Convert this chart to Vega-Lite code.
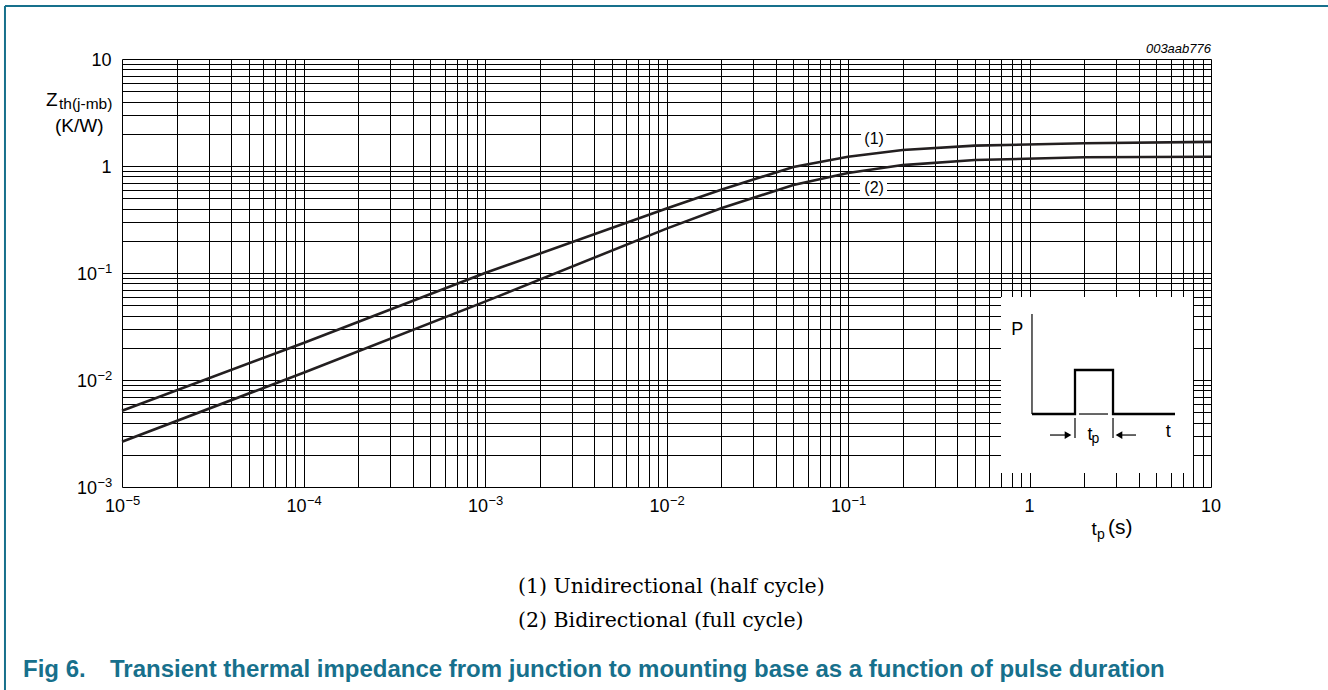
{
  "$schema": "https://vega.github.io/schema/vega-lite/v6.json",
  "width": 1089,
  "height": 428,
  "autosize": {"type": "none"},
  "padding": {"left": 122, "top": 59, "right": 117, "bottom": 203},
  "background": "white",
  "config": {"view": {"stroke": null}, "font": "Liberation Sans"},
  "datasets": {
    "curves": [
      {"series": "1", "t": 0.00001, "z": 0.00516},
      {"series": "1", "t": 0.0001, "z": 0.0222},
      {"series": "1", "t": 0.001, "z": 0.0998},
      {"series": "1", "t": 0.01, "z": 0.40},
      {"series": "1", "t": 0.02, "z": 0.60},
      {"series": "1", "t": 0.05, "z": 0.98},
      {"series": "1", "t": 0.1, "z": 1.22},
      {"series": "1", "t": 0.2, "z": 1.41},
      {"series": "1", "t": 0.5, "z": 1.55},
      {"series": "1", "t": 2, "z": 1.63},
      {"series": "1", "t": 10, "z": 1.68},
      {"series": "2", "t": 0.00001, "z": 0.00265},
      {"series": "2", "t": 0.0001, "z": 0.0117},
      {"series": "2", "t": 0.001, "z": 0.054},
      {"series": "2", "t": 0.01, "z": 0.26},
      {"series": "2", "t": 0.02, "z": 0.403},
      {"series": "2", "t": 0.05, "z": 0.664},
      {"series": "2", "t": 0.1, "z": 0.86},
      {"series": "2", "t": 0.2, "z": 1.02},
      {"series": "2", "t": 0.5, "z": 1.138},
      {"series": "2", "t": 2, "z": 1.206},
      {"series": "2", "t": 10, "z": 1.22}
    ],
    "xPow": [
      {"t": 0.00001, "base": "10", "exp": "−5"},
      {"t": 0.0001, "base": "10", "exp": "−4"},
      {"t": 0.001, "base": "10", "exp": "−3"},
      {"t": 0.01, "base": "10", "exp": "−2"},
      {"t": 0.1, "base": "10", "exp": "−1"}
    ],
    "xPlain": [
      {"t": 1, "label": "1"},
      {"t": 10, "label": "10"}
    ],
    "yPow": [
      {"z": 0.001, "base": "10", "exp": "−3"},
      {"z": 0.01, "base": "10", "exp": "−2"},
      {"z": 0.1, "base": "10", "exp": "−1"}
    ],
    "yPlain": [
      {"z": 1, "label": "1"},
      {"z": 10, "label": "10"}
    ],
    "labelBoxes": [
      {"x1": 0.118, "x2": 0.1625, "y1": 1.505, "y2": 2.12},
      {"x1": 0.1164, "x2": 0.164, "y1": 0.524, "y2": 0.756}
    ],
    "curveLabels": [
      {"t": 0.1393, "z": 1.788, "label": "(1)"},
      {"t": 0.1393, "z": 0.623, "label": "(2)"}
    ],
    "inset": [{"x1": 0.6966, "x2": 7.96, "y1": 0.00135, "y2": 0.0597}],
    "pulse": [
      {"i": 0, "t": 1.032, "p": 0.00481},
      {"i": 1, "t": 1.781, "p": 0.00481},
      {"i": 2, "t": 1.781, "p": 0.0124},
      {"i": 3, "t": 2.885, "p": 0.0124},
      {"i": 4, "t": 2.885, "p": 0.00481},
      {"i": 5, "t": 6.334, "p": 0.00481}
    ],
    "thin": [
      {"seg": "axis", "i": 0, "t": 1.032, "p": 0.0414},
      {"seg": "axis", "i": 1, "t": 1.032, "p": 0.00481},
      {"seg": "gap", "i": 0, "t": 1.874, "p": 0.00481},
      {"seg": "gap", "i": 1, "t": 2.707, "p": 0.00481},
      {"seg": "tickL", "i": 0, "t": 1.781, "p": 0.00442},
      {"seg": "tickL", "i": 1, "t": 1.781, "p": 0.00287},
      {"seg": "tickR", "i": 0, "t": 2.885, "p": 0.00442},
      {"seg": "tickR", "i": 1, "t": 2.885, "p": 0.00287},
      {"seg": "arrowL", "i": 0, "t": 1.297, "p": 0.00306},
      {"seg": "arrowL", "i": 1, "t": 1.671, "p": 0.00306},
      {"seg": "arrowR", "i": 0, "t": 3.035, "p": 0.00306},
      {"seg": "arrowR", "i": 1, "t": 3.863, "p": 0.00306}
    ],
    "arrowHeads": [
      {"t": 1.63, "p": 0.00306, "dir": "right"},
      {"t": 3.112, "p": 0.00306, "dir": "left"}
    ],
    "insetBig": [
      {"t": 0.8554, "p": 0.02634, "label": "P"},
      {"t": 2.154, "p": 0.00275, "label": "t"},
      {"t": 5.818, "p": 0.002951, "label": "t"}
    ],
    "insetSmall": [
      {"t": 2.31, "p": 0.002577, "label": "p"}
    ]
  },
  "layer": [
    {
      "data": {"name": "curves"},
      "mark": {"type": "line", "color": "#231f20", "strokeWidth": 2.6},
      "encoding": {
        "x": {
          "field": "t", "type": "quantitative",
          "scale": {"type": "log", "domain": [0.00001, 10], "nice": false},
          "axis": {
            "title": null, "domain": false, "ticks": false, "grid": true, "labels": false,
            "gridColor": "#000", "gridWidth": 1, "gridOpacity": 1,
            "values": [0.00001,0.00002,0.00003,0.00004,0.00005,0.00006,0.00007,0.00008,0.00009,
                       0.0001,0.0002,0.0003,0.0004,0.0005,0.0006,0.0007,0.0008,0.0009,
                       0.001,0.002,0.003,0.004,0.005,0.006,0.007,0.008,0.009,
                       0.01,0.02,0.03,0.04,0.05,0.06,0.07,0.08,0.09,
                       0.1,0.2,0.3,0.4,0.5,0.6,0.7,0.8,0.9,
                       1,2,3,4,5,6,7,8,9,10]
          }
        },
        "y": {
          "field": "z", "type": "quantitative",
          "scale": {"type": "log", "domain": [0.001, 10], "nice": false},
          "axis": {
            "title": null, "domain": false, "ticks": false, "grid": true, "labels": false,
            "gridColor": "#000", "gridWidth": 1, "gridOpacity": 1,
            "values": [0.001,0.002,0.003,0.004,0.005,0.006,0.007,0.008,0.009,
                       0.01,0.02,0.03,0.04,0.05,0.06,0.07,0.08,0.09,
                       0.1,0.2,0.3,0.4,0.5,0.6,0.7,0.8,0.9,
                       1,2,3,4,5,6,7,8,9,10]
          }
        },
        "detail": {"field": "series"}
      }
    },
    {
      "data": {"name": "xPow"},
      "mark": {"type": "text", "font": "Liberation Sans", "fontSize": 18, "align": "right", "baseline": "alphabetic", "dx": 3, "dy": 25, "color": "#000"},
      "encoding": {
        "x": {"field": "t", "type": "quantitative", "scale": {"type": "log", "domain": [0.00001, 10], "nice": false}},
        "y": {"datum": 0.001, "type": "quantitative", "scale": {"type": "log", "domain": [0.001, 10], "nice": false}},
        "text": {"field": "base"}
      }
    },
    {
      "data": {"name": "xPow"},
      "mark": {"type": "text", "font": "Liberation Sans", "fontSize": 13, "align": "left", "baseline": "alphabetic", "dx": 3.5, "dy": 18, "color": "#000"},
      "encoding": {
        "x": {"field": "t", "type": "quantitative", "scale": {"type": "log", "domain": [0.00001, 10], "nice": false}},
        "y": {"datum": 0.001, "type": "quantitative", "scale": {"type": "log", "domain": [0.001, 10], "nice": false}},
        "text": {"field": "exp"}
      }
    },
    {
      "data": {"name": "xPlain"},
      "mark": {"type": "text", "font": "Liberation Sans", "fontSize": 18, "align": "center", "baseline": "alphabetic", "dy": 25, "color": "#000"},
      "encoding": {
        "x": {"field": "t", "type": "quantitative", "scale": {"type": "log", "domain": [0.00001, 10], "nice": false}},
        "y": {"datum": 0.001, "type": "quantitative", "scale": {"type": "log", "domain": [0.001, 10], "nice": false}},
        "text": {"field": "label"}
      }
    },
    {
      "data": {"name": "yPow"},
      "mark": {"type": "text", "font": "Liberation Sans", "fontSize": 18, "align": "right", "baseline": "alphabetic", "dx": -25, "dy": 6.5, "color": "#000"},
      "encoding": {
        "x": {"datum": 0.00001, "type": "quantitative", "scale": {"type": "log", "domain": [0.00001, 10], "nice": false}},
        "y": {"field": "z", "type": "quantitative", "scale": {"type": "log", "domain": [0.001, 10], "nice": false}},
        "text": {"field": "base"}
      }
    },
    {
      "data": {"name": "yPow"},
      "mark": {"type": "text", "font": "Liberation Sans", "fontSize": 13, "align": "left", "baseline": "alphabetic", "dx": -24.5, "dy": -0.5, "color": "#000"},
      "encoding": {
        "x": {"datum": 0.00001, "type": "quantitative", "scale": {"type": "log", "domain": [0.00001, 10], "nice": false}},
        "y": {"field": "z", "type": "quantitative", "scale": {"type": "log", "domain": [0.001, 10], "nice": false}},
        "text": {"field": "exp"}
      }
    },
    {
      "data": {"name": "yPlain"},
      "mark": {"type": "text", "font": "Liberation Sans", "fontSize": 18, "align": "right", "baseline": "alphabetic", "dx": -10.5, "dy": 7, "color": "#000"},
      "encoding": {
        "x": {"datum": 0.00001, "type": "quantitative", "scale": {"type": "log", "domain": [0.00001, 10], "nice": false}},
        "y": {"field": "z", "type": "quantitative", "scale": {"type": "log", "domain": [0.001, 10], "nice": false}},
        "text": {"field": "label"}
      }
    },
    {
      "data": {"name": "labelBoxes"},
      "mark": {"type": "rect", "color": "white"},
      "encoding": {
        "x": {"field": "x1", "type": "quantitative", "scale": {"type": "log", "domain": [0.00001, 10], "nice": false}},
        "x2": {"field": "x2"},
        "y": {"field": "y1", "type": "quantitative", "scale": {"type": "log", "domain": [0.001, 10], "nice": false}},
        "y2": {"field": "y2"}
      }
    },
    {
      "data": {"name": "curveLabels"},
      "mark": {"type": "text", "font": "Liberation Sans", "fontSize": 16, "align": "center", "baseline": "middle", "color": "#000"},
      "encoding": {
        "x": {"field": "t", "type": "quantitative", "scale": {"type": "log", "domain": [0.00001, 10], "nice": false}},
        "y": {"field": "z", "type": "quantitative", "scale": {"type": "log", "domain": [0.001, 10], "nice": false}},
        "text": {"field": "label"}
      }
    },
    {
      "data": {"name": "inset"},
      "mark": {"type": "rect", "color": "white"},
      "encoding": {
        "x": {"field": "x1", "type": "quantitative", "scale": {"type": "log", "domain": [0.00001, 10], "nice": false}},
        "x2": {"field": "x2"},
        "y": {"field": "y1", "type": "quantitative", "scale": {"type": "log", "domain": [0.001, 10], "nice": false}},
        "y2": {"field": "y2"}
      }
    },
    {
      "data": {"name": "pulse"},
      "mark": {"type": "line", "color": "#000", "strokeWidth": 2.3, "strokeJoin": "miter"},
      "encoding": {
        "x": {"field": "t", "type": "quantitative", "scale": {"type": "log", "domain": [0.00001, 10], "nice": false}},
        "y": {"field": "p", "type": "quantitative", "scale": {"type": "log", "domain": [0.001, 10], "nice": false}},
        "order": {"field": "i"}
      }
    },
    {
      "data": {"name": "thin"},
      "mark": {"type": "line", "color": "#000", "strokeWidth": 1.2},
      "encoding": {
        "x": {"field": "t", "type": "quantitative", "scale": {"type": "log", "domain": [0.00001, 10], "nice": false}},
        "y": {"field": "p", "type": "quantitative", "scale": {"type": "log", "domain": [0.001, 10], "nice": false}},
        "detail": {"field": "seg"},
        "order": {"field": "i"}
      }
    },
    {
      "data": {"name": "arrowHeads"},
      "mark": {"type": "point", "filled": true, "color": "#000", "size": 60, "opacity": 1},
      "encoding": {
        "x": {"field": "t", "type": "quantitative", "scale": {"type": "log", "domain": [0.00001, 10], "nice": false}},
        "y": {"field": "p", "type": "quantitative", "scale": {"type": "log", "domain": [0.001, 10], "nice": false}},
        "shape": {"field": "dir", "scale": {"domain": ["right", "left"], "range": ["triangle-right", "triangle-left"]}, "legend": null}
      }
    },
    {
      "data": {"name": "insetBig"},
      "mark": {"type": "text", "font": "Liberation Sans", "fontSize": 18, "align": "center", "baseline": "alphabetic", "color": "#000"},
      "encoding": {
        "x": {"field": "t", "type": "quantitative", "scale": {"type": "log", "domain": [0.00001, 10], "nice": false}},
        "y": {"field": "p", "type": "quantitative", "scale": {"type": "log", "domain": [0.001, 10], "nice": false}},
        "text": {"field": "label"}
      }
    },
    {
      "data": {"name": "insetSmall"},
      "mark": {"type": "text", "font": "Liberation Sans", "fontSize": 14, "align": "center", "baseline": "alphabetic", "color": "#000"},
      "encoding": {
        "x": {"field": "t", "type": "quantitative", "scale": {"type": "log", "domain": [0.00001, 10], "nice": false}},
        "y": {"field": "p", "type": "quantitative", "scale": {"type": "log", "domain": [0.001, 10], "nice": false}},
        "text": {"field": "label"}
      }
    },
    {
      "data": {"values": [{"label": "003aab776"}]},
      "mark": {"type": "text", "font": "Liberation Sans", "fontStyle": "italic", "fontSize": 13, "align": "right", "baseline": "alphabetic", "dy": -6, "color": "#000"},
      "encoding": {
        "x": {"datum": 10, "type": "quantitative", "scale": {"type": "log", "domain": [0.00001, 10], "nice": false}},
        "y": {"datum": 10, "type": "quantitative", "scale": {"type": "log", "domain": [0.001, 10], "nice": false}},
        "text": {"field": "label"}
      }
    },
    {
      "data": {"values": [{"label": "Z"}]},
      "mark": {"type": "text", "font": "Liberation Sans", "fontSize": 19, "align": "left", "baseline": "alphabetic", "dx": -76, "dy": 47, "color": "#000"},
      "encoding": {
        "x": {"datum": 0.00001, "type": "quantitative", "scale": {"type": "log", "domain": [0.00001, 10], "nice": false}},
        "y": {"datum": 10, "type": "quantitative", "scale": {"type": "log", "domain": [0.001, 10], "nice": false}},
        "text": {"field": "label"}
      }
    },
    {
      "data": {"values": [{"label": "th(j-mb)"}]},
      "mark": {"type": "text", "font": "Liberation Sans", "fontSize": 15.5, "align": "left", "baseline": "alphabetic", "dx": -63, "dy": 50, "color": "#000"},
      "encoding": {
        "x": {"datum": 0.00001, "type": "quantitative", "scale": {"type": "log", "domain": [0.00001, 10], "nice": false}},
        "y": {"datum": 10, "type": "quantitative", "scale": {"type": "log", "domain": [0.001, 10], "nice": false}},
        "text": {"field": "label"}
      }
    },
    {
      "data": {"values": [{"label": "(K/W)"}]},
      "mark": {"type": "text", "font": "Liberation Sans", "fontSize": 19, "align": "left", "baseline": "alphabetic", "dx": -67, "dy": 73, "color": "#000"},
      "encoding": {
        "x": {"datum": 0.00001, "type": "quantitative", "scale": {"type": "log", "domain": [0.00001, 10], "nice": false}},
        "y": {"datum": 10, "type": "quantitative", "scale": {"type": "log", "domain": [0.001, 10], "nice": false}},
        "text": {"field": "label"}
      }
    },
    {
      "data": {"values": [{"label": "t"}]},
      "mark": {"type": "text", "font": "Liberation Sans", "fontSize": 19, "align": "left", "baseline": "alphabetic", "dx": -119.5, "dy": 48, "color": "#000"},
      "encoding": {
        "x": {"datum": 10, "type": "quantitative", "scale": {"type": "log", "domain": [0.00001, 10], "nice": false}},
        "y": {"datum": 0.001, "type": "quantitative", "scale": {"type": "log", "domain": [0.001, 10], "nice": false}},
        "text": {"field": "label"}
      }
    },
    {
      "data": {"values": [{"label": "p"}]},
      "mark": {"type": "text", "font": "Liberation Sans", "fontSize": 14, "align": "left", "baseline": "alphabetic", "dx": -114, "dy": 51.5, "color": "#000"},
      "encoding": {
        "x": {"datum": 10, "type": "quantitative", "scale": {"type": "log", "domain": [0.00001, 10], "nice": false}},
        "y": {"datum": 0.001, "type": "quantitative", "scale": {"type": "log", "domain": [0.001, 10], "nice": false}},
        "text": {"field": "label"}
      }
    },
    {
      "data": {"values": [{"label": "(s)"}]},
      "mark": {"type": "text", "font": "Liberation Sans", "fontSize": 21, "align": "left", "baseline": "alphabetic", "dx": -103, "dy": 47, "color": "#000"},
      "encoding": {
        "x": {"datum": 10, "type": "quantitative", "scale": {"type": "log", "domain": [0.00001, 10], "nice": false}},
        "y": {"datum": 0.001, "type": "quantitative", "scale": {"type": "log", "domain": [0.001, 10], "nice": false}},
        "text": {"field": "label"}
      }
    },
    {
      "data": {"values": [{"label": "(1) Unidirectional (half cycle)"}]},
      "mark": {"type": "text", "font": "DejaVu Serif", "fontSize": 20.5, "align": "left", "baseline": "middle", "dx": 396, "dy": 100, "color": "#000"},
      "encoding": {
        "x": {"datum": 0.00001, "type": "quantitative", "scale": {"type": "log", "domain": [0.00001, 10], "nice": false}},
        "y": {"datum": 0.001, "type": "quantitative", "scale": {"type": "log", "domain": [0.001, 10], "nice": false}},
        "text": {"field": "label"}
      }
    },
    {
      "data": {"values": [{"label": "(2) Bidirectional (full cycle)"}]},
      "mark": {"type": "text", "font": "DejaVu Serif", "fontSize": 20.5, "align": "left", "baseline": "middle", "dx": 396, "dy": 134, "color": "#000"},
      "encoding": {
        "x": {"datum": 0.00001, "type": "quantitative", "scale": {"type": "log", "domain": [0.00001, 10], "nice": false}},
        "y": {"datum": 0.001, "type": "quantitative", "scale": {"type": "log", "domain": [0.001, 10], "nice": false}},
        "text": {"field": "label"}
      }
    },
    {
      "data": {"values": [{"label": "Fig 6."}]},
      "mark": {"type": "text", "font": "Liberation Sans", "fontWeight": "bold", "fontSize": 24, "align": "left", "baseline": "alphabetic", "dx": -99, "dy": 190, "color": "#17708c"},
      "encoding": {
        "x": {"datum": 0.00001, "type": "quantitative", "scale": {"type": "log", "domain": [0.00001, 10], "nice": false}},
        "y": {"datum": 0.001, "type": "quantitative", "scale": {"type": "log", "domain": [0.001, 10], "nice": false}},
        "text": {"field": "label"}
      }
    },
    {
      "data": {"values": [{"label": "Transient thermal impedance from junction to mounting base as a function of pulse duration"}]},
      "mark": {"type": "text", "font": "Liberation Sans", "fontWeight": "bold", "fontSize": 24, "align": "left", "baseline": "alphabetic", "dx": -12, "dy": 190, "color": "#17708c"},
      "encoding": {
        "x": {"datum": 0.00001, "type": "quantitative", "scale": {"type": "log", "domain": [0.00001, 10], "nice": false}},
        "y": {"datum": 0.001, "type": "quantitative", "scale": {"type": "log", "domain": [0.001, 10], "nice": false}},
        "text": {"field": "label"}
      }
    },
    {
      "data": {"values": [{"edge": "top"}]},
      "mark": {"type": "rule", "color": "#17708c", "strokeWidth": 2},
      "encoding": {
        "x": {"datum": 0.000002266, "type": "quantitative", "scale": {"type": "log", "domain": [0.00001, 10], "nice": false}},
        "x2": {"datum": 60},
        "y": {"datum": 31.27, "type": "quantitative", "scale": {"type": "log", "domain": [0.001, 10], "nice": false}}
      }
    },
    {
      "data": {"values": [{"edge": "left"}]},
      "mark": {"type": "rule", "color": "#17708c", "strokeWidth": 2},
      "encoding": {
        "x": {"datum": 0.000002266, "type": "quantitative", "scale": {"type": "log", "domain": [0.00001, 10], "nice": false}},
        "y": {"datum": 31.27, "type": "quantitative", "scale": {"type": "log", "domain": [0.001, 10], "nice": false}},
        "y2": {"datum": 0.00001}
      }
    }
  ]
}
